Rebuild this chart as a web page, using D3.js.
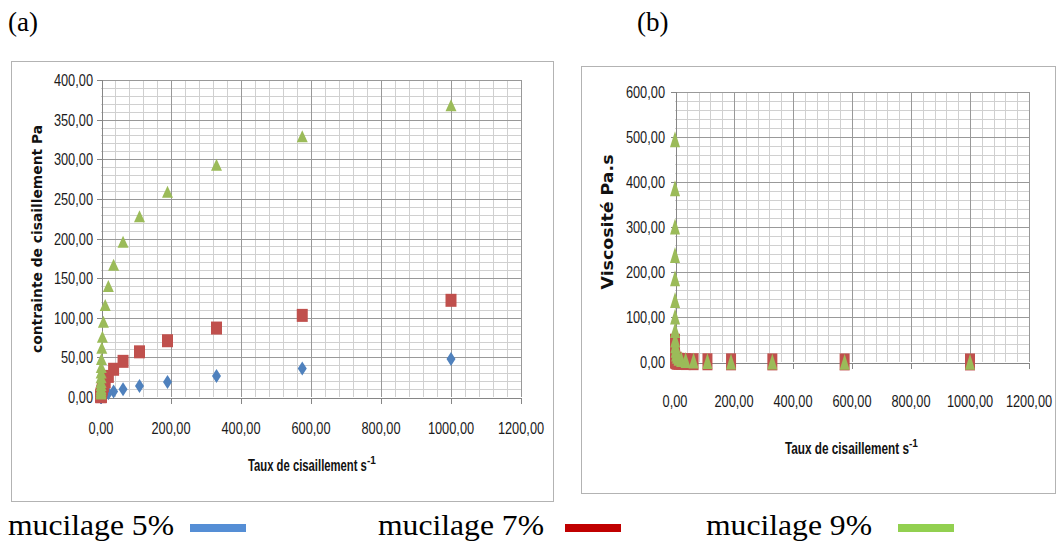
<!DOCTYPE html>
<html><head><meta charset="utf-8">
<script src="https://cdn.jsdelivr.net/npm/d3@7"></script>
<style>body{margin:0;background:#fff}svg{display:block}</style>
</head><body><svg id="c" width="1057" height="542"></svg>
<script>
// ---- data ----
const shearRate = [1000, 575, 330, 190, 110, 63, 36, 21, 12, 6.9, 4, 2.3, 1.3, 0.76, 0.44, 0.25, 0.14, 0.083, 0.048, 0.028, 0.016, 0.0091];
const stress5 = [48, 36, 26.5, 19, 14, 9.7, 6.8, 4.7, 3.3, 2.3, 1.6, 1.1, 0.8, 0.55, 0.4, 0.28, 0.2, 0.14, 0.1, 0.07, 0.05, 0.035];
const stress7 = [122, 103, 87, 71, 57, 45, 35, 26, 19, 14, 10, 7.5, 5.5, 4, 3, 2.2, 1.6, 1.2, 0.9, 0.7, 0.5, 0.4];
const stress9 = [368, 329, 293, 259, 228, 196, 167, 140, 116, 95, 76, 62, 48, 38, 31, 25, 19, 15, 11, 8.4, 6.2, 4.5];
const visc5 = [0.05, 0.06, 0.08, 0.1, 0.13, 0.15, 0.19, 0.22, 0.28, 0.33, 0.4, 0.48, 0.6, 0.72, 0.9, 1.1, 1.4, 1.7, 2.1, 2.5, 3.1, 3.8];
const visc7 = [0.12, 0.18, 0.26, 0.37, 0.52, 0.71, 0.97, 1.24, 1.6, 2.0, 2.5, 3.3, 4.2, 5.3, 6.8, 8.8, 11.4, 14.5, 18.8, 25, 31, 44];
const visc9 = [0.37, 0.57, 0.89, 1.36, 2.07, 3.1, 4.6, 6.7, 9.7, 13.8, 19, 27, 37, 50, 71, 101, 138, 186, 238, 301, 386, 495];
const seriesNames = ["mucilage 5%", "mucilage 7%", "mucilage 9%"];
const panelLabels = ["(a)", "(b)"];
const xTicks = [0, 200, 400, 600, 800, 1000, 1200];
const stressTicks = [0, 50, 100, 150, 200, 250, 300, 350, 400];
const viscTicks = [0, 100, 200, 300, 400, 500, 600];
const xTitle = "Taux de cisaillement s";
const xTitleSup = "-1";
const yTitleA = "contrainte de cisaillement Pa";
const yTitleB = "Viscosité Pa.s";

// ---- styles ----
const markerColors = ["#4f81bd", "#c0504d", "#9bbb59"];
const legendColors = ["#558ed5", "#c00000", "#92d050"];
const SANS = "'Liberation Sans', Arial, sans-serif";
const SERIF = "'Liberation Serif', 'Times New Roman', serif";
const VERD = "'DejaVu Sans', Verdana, sans-serif";
const fmt = v => d3.format(".2f")(v).replace(".", ",");

const svg = d3.select("#c");

function markerPath(kind, w, h) {
  if (kind === 0) return `M0,${-h/2}L${w/2},0L0,${h/2}L${-w/2},0Z`;
  if (kind === 1) return `M${-w/2},${-h/2}H${w/2}V${h/2}H${-w/2}Z`;
  return `M0,${-h/2}L${w/2},${h/2}L${-w/2},${h/2}Z`;
}

function drawPanel(cfg) {
  const g = svg.append("g");
  g.append("rect").attr("x", cfg.frame[0] + 0.5).attr("y", cfg.frame[1] + 0.5)
    .attr("width", cfg.frame[2]).attr("height", cfg.frame[3])
    .attr("fill", "#fff").attr("stroke", "#b3b3b3").attr("stroke-width", 1);

  const x = d3.scaleLinear().domain([0, 1200]).range([cfg.px0, cfg.px1]);
  const y = d3.scaleLinear().domain([0, cfg.yTicks[cfg.yTicks.length - 1]]).range([cfg.py0, cfg.py1]);
  const yMax = y.domain()[1];

  const xMinor = d3.range(0, 1200 + 1e-9, 40).filter(v => v % 200 !== 0);
  const yMinor = d3.range(0, yMax + 1e-9, cfg.yMinor).filter(v => v % cfg.yMajor !== 0);
  const grid = g.append("g").attr("shape-rendering", "crispEdges");
  grid.selectAll(".xm").data(xMinor).join("line")
    .attr("x1", d => Math.round(x(d)) + 0.5).attr("x2", d => Math.round(x(d)) + 0.5)
    .attr("y1", y(0)).attr("y2", y(yMax)).attr("stroke", "#d0d0d0");
  grid.selectAll(".ym").data(yMinor).join("line")
    .attr("y1", d => Math.round(y(d)) + 0.5).attr("y2", d => Math.round(y(d)) + 0.5)
    .attr("x1", x(0)).attr("x2", x(1200)).attr("stroke", "#d0d0d0");
  grid.selectAll(".xM").data(xTicks.slice(1)).join("line")
    .attr("x1", d => Math.round(x(d)) + 0.5).attr("x2", d => Math.round(x(d)) + 0.5)
    .attr("y1", y(0)).attr("y2", y(yMax)).attr("stroke", "#999");
  grid.selectAll(".yM").data(cfg.yTicks.slice(1)).join("line")
    .attr("y1", d => Math.round(y(d)) + 0.5).attr("y2", d => Math.round(y(d)) + 0.5)
    .attr("x1", x(0)).attr("x2", x(1200)).attr("stroke", "#999");

  const xAxis = d3.axisBottom(x).tickValues(xTicks).tickSize(6).tickFormat("");
  const yAxis = d3.axisLeft(y).tickValues(cfg.yTicks).tickSize(5).tickFormat("");
  const ax = g.append("g").attr("transform", `translate(0,${Math.round(y(0)) + 0.5})`).call(xAxis);
  const ay = g.append("g").attr("transform", `translate(${Math.round(x(0)) + 0.5},0)`).call(yAxis);
  [ax, ay].forEach(a => {
    a.select(".domain").attr("stroke", "#868686");
    a.selectAll(".tick line").attr("stroke", "#868686");
    a.attr("shape-rendering", "crispEdges");
  });

  g.selectAll(".yl").data(cfg.yTicks).join("text")
    .attr("transform", d => `translate(${cfg.yLabelX},${y(d) + cfg.yLabelDy}) scale(0.8,1)`)
    .attr("text-anchor", "end").attr("font-family", SANS)
    .attr("font-size", 16).attr("fill", "#1a1a1a").text(fmt);
  g.selectAll(".xl").data(xTicks).join("text")
    .attr("transform", d => `translate(${x(d)},${cfg.xLabelY}) scale(0.8,1)`)
    .attr("text-anchor", "middle").attr("font-family", SANS)
    .attr("font-size", 16).attr("fill", "#1a1a1a").text(fmt);

  // x axis title (condensed with a transform) + superscript
  const sx = cfg.xTitle[2] / 170;
  g.append("text").attr("transform", `translate(${cfg.xTitle[0]},${cfg.xTitle[1]}) scale(${sx},1)`)
    .attr("font-family", SANS).attr("font-weight", "bold")
    .attr("font-size", 16).attr("fill", "#111").text(xTitle);
  g.append("text").attr("x", cfg.xTitle[0] + cfg.xTitle[2] - 1).attr("y", cfg.xTitle[1] - 7)
    .attr("font-family", SANS).attr("font-weight", "bold")
    .attr("font-size", 10).attr("fill", "#111").text(xTitleSup);

  g.append("text")
    .attr("transform", `translate(${cfg.yTitle[0]},${cfg.yTitle[1]}) rotate(-90)`)
    .attr("text-anchor", "middle").attr("font-family", VERD)
    .attr("font-weight", "bold").attr("font-size", cfg.yTitle[3]).attr("fill", "#111")
    .attr("textLength", cfg.yTitle[2]).attr("lengthAdjust", "spacingAndGlyphs")
    .text(cfg.yTitleText);

  cfg.series.forEach((vals, si) => {
    const ms = cfg.markerSize[si];
    g.append("g").selectAll("path").data(vals.map((v, i) => [shearRate[i], v])).join("path")
      .attr("d", markerPath(si, ms[0], ms[1]))
      .attr("transform", d => `translate(${x(d[0])},${y(d[1])})`)
      .attr("fill", markerColors[si]);
  });

  svg.append("text").attr("x", cfg.label[0]).attr("y", cfg.label[1])
    .attr("font-family", SERIF).attr("font-size", 27)
    .attr("fill", "#000").text(cfg.labelText);
}

drawPanel({
  frame: [11, 61, 542, 440],
  px0: 101, px1: 521, py0: 397, py1: 80,
  yTicks: stressTicks, yMajor: 50, yMinor: 10,
  yLabelX: 93, yLabelDy: 6, xLabelY: 434,
  xTitle: [248, 471, 120], yTitle: [42, 239, 228, 14], yTitleText: yTitleA,
  series: [stress5, stress7, stress9],
  markerSize: [[9, 14], [11, 13], [11, 12]],
  label: [8, 31], labelText: panelLabels[0]
});
drawPanel({
  frame: [581, 66, 474, 427],
  px0: 675, px1: 1029, py0: 362, py1: 92,
  yTicks: viscTicks, yMajor: 100, yMinor: 20,
  yLabelX: 665, yLabelDy: 6, xLabelY: 407,
  xTitle: [785, 454, 125], yTitle: [613, 222, 135, 15], yTitleText: yTitleB,
  series: [visc5, visc7, visc9],
  markerSize: [[9, 15], [10, 17], [10, 16]],
  label: [637, 31], labelText: panelLabels[1]
});

const legendText = [8, 378, 706];
const legendBar = [190, 565, 898];
const lg = svg.append("g");
seriesNames.forEach((name, i) => {
  lg.append("text").attr("x", legendText[i]).attr("y", 535)
    .attr("font-family", SERIF).attr("font-size", 30)
    .attr("textLength", 166).attr("lengthAdjust", "spacingAndGlyphs")
    .attr("fill", "#000").text(name);
  lg.append("rect").attr("x", legendBar[i]).attr("y", 524).attr("width", 56).attr("height", 8)
    .attr("fill", legendColors[i]);
});
</script>
</body></html>
